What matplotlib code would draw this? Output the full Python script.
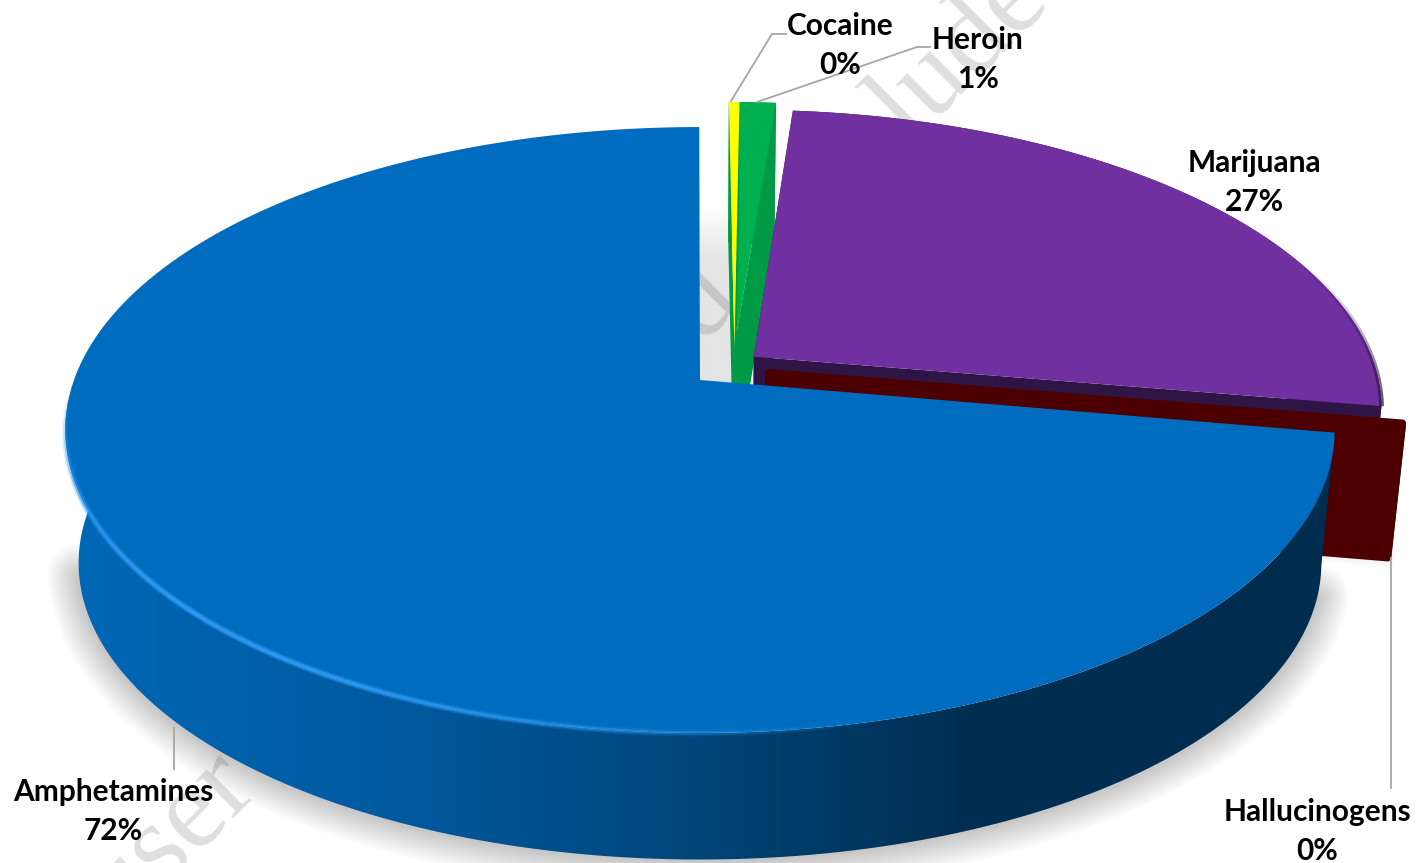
import numpy as np
import matplotlib
matplotlib.use('Agg')
import matplotlib.pyplot as plt
from matplotlib.patches import Polygon
from matplotlib.collections import LineCollection
from matplotlib.colors import LinearSegmentedColormap, to_rgba

plt.rcParams['font.family'] = ['Lato', 'DejaVu Sans']

# доли
categories = ['Amphetamines', 'Cocaine', 'Heroin', 'Marijuana', 'Hallucinogens']
shares = [72.2, 0.32, 1.1, 26.28, 0.1]
percent_labels = ['72%', '0%', '1%', '27%', '0%']

top_colors = ['#006cbf', '#ffff00', '#00b050', '#7030a0', '#4d0000']
cut_colors = ['#003a66', '#009a46', '#009a46', '#2f1446', '#4d0000']
# вынос секторов (в единицах радиуса)
explode = [(0, 0), (0.056, 0.117), (0.056, 0.117), (0.087, 0.08), (0.11, 0.025)]
start_angle = 100.0

# параметры перспективы
AX, AY = 700, 380
RX, RY = 626, 294.7
K = 0.165
SCALE = 0.979
DEPTH = 134


def project(theta, radius=1.0, off=(0, 0)):
    t = np.radians(theta)
    u = radius * np.sin(t) + off[0]
    v = radius * np.cos(t) + off[1]
    w = 1 + K * v
    return AX + RX * u / w, AY - RY * v / w


def lower(x, y):
    return AX + SCALE * (x - AX), AY + DEPTH + SCALE * (y - AY)


def arc(a, b, off=(0, 0), n=300):
    th = np.linspace(a, b, n)
    return project(th, 1.0, off)


def fading_line(x, y, color, width, alpha, z):
    pts = np.c_[x, y][:, None, :]
    segs = np.concatenate([pts[:-1], pts[1:]], axis=1)
    rgba = np.tile(to_rgba(color), (len(segs), 1))
    rgba[:, 3] = alpha
    ax.add_collection(LineCollection(segs, colors=rgba, linewidths=width, zorder=z))


fig = plt.figure(figsize=(14.28, 8.63), dpi=100)
ax = fig.add_axes([0, 0, 1, 1])
ax.set_xlim(0, 1428)
ax.set_ylim(863, 0)
ax.axis('off')

# углы секторов
edges = start_angle + np.cumsum([0] + shares) * 3.6
spans = list(zip(edges[:-1], edges[1:]))

# тень под диском
x_top, y_top = arc(106, 258)
x_low, y_low = lower(x_top, y_top)
for lw in np.linspace(46, 4, 14):
    ax.plot(x_low, y_low, color='#000000', alpha=0.014, lw=lw,
            solid_capstyle='round', zorder=2)
# тень под бордовым сектором
for lw in np.linspace(16, 3, 6):
    ax.plot([1330, 1385], [552, 557], color='#000000', alpha=0.012, lw=lw, zorder=2)

# серый просвет между секторами
gap = np.linspace(0, 1, 80)[:, None]
gap_cmap = LinearSegmentedColormap.from_list('gap', ['#ffffff', '#e4e4e4'])
ax.imshow(gap, extent=(700, 750, 385, 205), cmap=gap_cmap, aspect='auto', zorder=2, vmin=0, vmax=0.3)
ax.set_xlim(0, 1428)
ax.set_ylim(863, 0)

# водяной знак
for txt, wx, wy in [('user', 191, 860), ('q', 722, 322), ('lude', 981, 73)]:
    ax.text(wx, wy, txt, fontsize=84, family='Liberation Serif', color='black', alpha=0.13,
            rotation=45, rotation_mode='anchor', ha='center', va='baseline', zorder=2.5)


def draw_slice(i, z, rounded=False):
    a, b = spans[i]
    off = explode[i]
    ax0, ay0 = project(0, 0, off)
    xa, ya = arc(a, b, off)
    # боковая сторона
    xl, yl = lower(xa, ya)
    ax.add_patch(Polygon(np.r_[np.c_[xa, ya], np.c_[xl[::-1], yl[::-1]]],
                         closed=True, fc=cut_colors[i], ec='none', zorder=z))
    # срезы
    bx, by = lower(ax0, ay0)
    for ex, ey, elx, ely in [(xa[0], ya[0], xl[0], yl[0]), (xa[-1], ya[-1], xl[-1], yl[-1])]:
        ax.add_patch(Polygon([(ax0, ay0), (ex, ey), (elx, ely), (bx, by)], closed=True,
                             fc=cut_colors[i], ec=cut_colors[i] if rounded else 'none',
                             lw=5 if rounded else 0, joinstyle='round', zorder=z))
    return ax0, ay0, xa, ya


def draw_top(i, geom, z):
    ax0, ay0, xa, ya = geom
    ax.add_patch(Polygon(np.r_[[(ax0, ay0)], np.c_[xa, ya]], closed=True,
                         fc=top_colors[i], ec='none', zorder=z))


draw_top(2, draw_slice(2, 3), 3.1)
draw_top(1, draw_slice(1, 3.5), 3.6)
purple = draw_slice(3, 4)
draw_top(4, draw_slice(4, 4.5, rounded=True), 4.6)
draw_top(3, purple, 5)

# тёмная кромка справа у фиолетового сектора
xp, yp = arc(spans[3][1] - 30, spans[3][1], explode[3])
fading_line(xp, yp, '#2f1446', 3.5, np.linspace(0, 1, len(xp) - 1) ** 1.5, 5.1)

# главный сектор: бок с градиентом
a, b = spans[0]
xf, yf = arc(a, 272)
xb, yb = lower(xf, yf)
side = Polygon(np.r_[np.c_[xf, yf], np.c_[xb[::-1], yb[::-1]]], closed=True, fc='none', ec='none', zorder=6)
ax.add_patch(side)
side_cmap = LinearSegmentedColormap.from_list('side', [
    (0.0, '#0068b8'), (0.25, '#005a9f'), (0.45, '#004a82'), (0.7, '#002f52'), (1.0, '#002c4e')])
grad = np.linspace(0, 1, 512)[None, :]
im = ax.imshow(grad, extent=(63, 1340, 863, 400), cmap=side_cmap, aspect='auto', zorder=6)
im.set_clip_path(side)
ax.set_xlim(0, 1428)
ax.set_ylim(863, 0)

# главный сектор: верх
x0, y0 = project(0, 0, explode[0])
xa, ya = arc(a, b)
ax.add_patch(Polygon(np.r_[[(x0, y0)], np.c_[xa, ya]], closed=True, fc=top_colors[0], ec='none', zorder=7))

# светлая кромка
xr, yr = arc(268, 165)
n_seg = len(xr) - 1
fade = np.minimum(1, np.linspace(0, 3, n_seg)) * np.minimum(1, np.linspace(2.2, 0, n_seg))
fading_line(xr, yr, '#2a97f0', 5, fade * 0.45, 8)
fading_line(xr, yr, '#2a97f0', 2.8, fade, 8.1)

# выноски
leader_color = '#a6a6a6'
ax.plot([731, 772, 786], [101, 34, 34], color=leader_color, lw=1.3, zorder=9)
ax.plot([757, 917, 930], [102, 47, 47], color=leader_color, lw=1.3, zorder=9)
ax.plot([1391, 1391], [558, 788], color=leader_color, lw=1.3, zorder=9)
ax.plot([174, 174], [728, 769], color=leader_color, lw=1.3, zorder=9)

# подписи
label_pos = [(113, 811.5), (840, 45.5), (978, 59.5), (1254, 182.5), (1317, 831.5)]
for name, pct, (lx, ly) in zip(categories, percent_labels, label_pos):
    ax.text(lx, ly, name + '\n' + pct, ha='center', va='center', fontsize=21.5,
            fontweight='bold', color='black', linespacing=1.52, zorder=10)

fig.savefig('out.png', dpi=100)
